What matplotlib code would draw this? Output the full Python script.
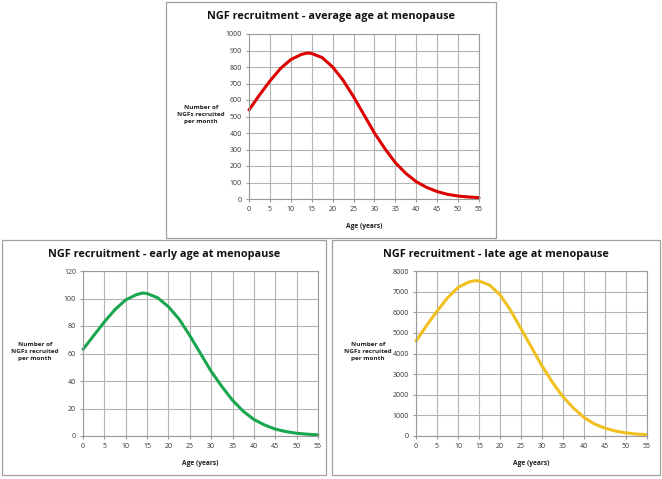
import matplotlib
matplotlib.use("Agg")
import matplotlib.pyplot as plt
from matplotlib.patches import Rectangle

plt.rcParams['font.family'] = ['Open Sans', 'DejaVu Sans']

W, H = 662, 479

age = [0, 2.5, 5, 7.5, 10, 12.5, 14, 15, 17.5, 20, 22.5, 25, 27.5, 30, 32.5, 35,
       37.5, 40, 42.5, 45, 47.5, 50, 52.5, 55]

ngf_average = [540, 630, 715, 790, 845, 876, 885, 882, 857, 800, 720, 620, 510, 400,
               305, 220, 155, 105, 70, 45, 28, 18, 12, 8]
ngf_early = [63, 73, 83, 92, 99, 102.8, 104, 103.6, 100.5, 94, 85, 73, 60, 47, 36, 26,
             18, 12, 8, 5, 3.2, 2, 1.3, 0.8]
ngf_late = [4600, 5350, 6050, 6700, 7200, 7460, 7530, 7515, 7320, 6850, 6100, 5200,
            4300, 3400, 2600, 1900, 1350, 900, 580, 380, 240, 150, 95, 60]

x_ticks = list(range(0, 60, 5))

panels = [
    # title, values, yticks, color, box (x0,y0,x1,y1 px), axes (x0,y0,x1,y1 px)
    ("NGF recruitment - average age at menopause", ngf_average,
     list(range(0, 1100, 100)), "#dd0000", (166, 2, 496, 238), (249, 34, 479, 199)),
    ("NGF recruitment - early age at menopause", ngf_early,
     list(range(0, 140, 20)), "#1aa64e", (2, 240, 326, 475), (83, 271, 318, 436)),
    ("NGF recruitment - late age at menopause", ngf_late,
     list(range(0, 9000, 1000)), "#f0c020", (332, 240, 660, 475), (416, 271, 647, 436)),
]

fig = plt.figure(figsize=(W / 100, H / 100), dpi=100)


def fx(px):
    return px / W


def fy(py):
    return 1 - py / H


for title, vals, yticks, color, box, axbox in panels:
    bx0, by0, bx1, by1 = box
    fig.patches.append(Rectangle((fx(bx0), fy(by1)), fx(bx1 - bx0), (by1 - by0) / H,
                                 transform=fig.transFigure, facecolor="white",
                                 edgecolor="#a0a0a0", linewidth=0.9, zorder=-5))
    ax0, ay0, ax1, ay1 = axbox
    ax = fig.add_axes([fx(ax0), fy(ay1), fx(ax1 - ax0), (ay1 - ay0) / H])
    ax.patch.set_alpha(0)
    ax.plot(age, vals, color=color, linewidth=2.2, solid_capstyle="round",
            solid_joinstyle="round", clip_on=False)
    ax.set_xlim(0, 55)
    ax.set_ylim(yticks[0], yticks[-1])
    ax.set_xticks(x_ticks)
    ax.set_yticks(yticks)
    ax.grid(True, color="#b4b4b4", linewidth=0.8)
    ax.set_axisbelow(True)
    for s in ax.spines.values():
        s.set_color("#9a9a9a")
        s.set_linewidth(0.8)
    ax.tick_params(labelsize=5, colors="#9a9a9a", labelcolor="#333333", length=2, pad=3)
    ax.set_xlabel("Age (years)", fontsize=4.8, fontweight="bold", color="#222222", labelpad=7)
    # title centered in panel box
    fig.text(fx((bx0 + bx1) / 2), fy(by0 + 15), title, ha="center", va="center",
             fontsize=7.8, fontweight="bold", color="#111111")
    fig.text(fx(ax0 - 48), fy((ay0 + ay1) / 2 - 2), "Number of\nNGFs recruited\nper month",
             ha="center", va="center", fontsize=4.6, fontweight="bold", color="#222222",
             linespacing=1.4)

fig.savefig("out.png", dpi=100, facecolor="white")
